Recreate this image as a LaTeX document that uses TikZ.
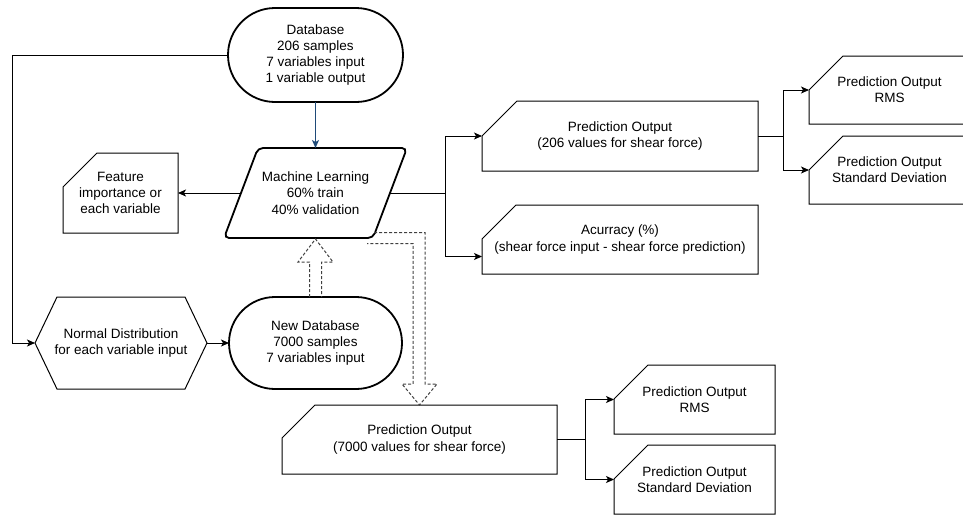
\documentclass[tikz,border=0pt]{standalone}
\usepackage{fontspec}
\setmainfont{Liberation Sans}
\usetikzlibrary{calc,arrows.meta,shapes.misc}
\definecolor{arrowblue}{HTML}{1F4A78}
\definecolor{dashgray}{HTML}{404040}
\newcommand{\cardoutline}[2]{\draw[outline] ($(#1.north west)+(0,-#2)$) -- ($(#1.north west)+(#2,0)$) -- (#1.north east) -- (#1.south east) -- (#1.south west) -- cycle;}
\begin{document}
\begin{tikzpicture}[x=1pt,y=1pt,
  txt/.style={font=\fontsize{13.5}{16.2}\selectfont, align=center, inner sep=0pt, outer sep=0pt},
  conn/.style={line width=1pt, draw=black},
  arr/.style={conn, -{Stealth[length=8pt,width=7pt,inset=2pt]}},
  bold/.style={line width=1.8pt, draw=black},
  outline/.style={line width=1pt, draw=black},
  hollow/.style={draw=dashgray, line width=1pt, dash pattern=on 3pt off 2pt},
]
\useasboundingbox (0,0) rectangle (963,-515);
\clip (0,0) rectangle (963,-515);

% Nodes
\node[txt, rounded rectangle, bold, minimum width=175pt, minimum height=94pt] (db) at (315.5,-55) {Database\\206 samples\\7 variables input\\1 variable output};

\node[txt, minimum width=183pt, minimum height=90pt] (ml) at (315.5,-193) {Machine Learning\\60\% train\\40\% validation};
\draw[bold, rounded corners=5pt] (ml.south west) -- ($(ml.north west)+(34,0)$) -- (ml.north east) -- ($(ml.south east)+(-34,0)$) -- cycle;

\node[txt, minimum width=115pt, minimum height=80pt] (feat) at (120.5,-193) {Feature\\importance or\\each variable};
\cardoutline{feat}{34}

\node[txt, minimum width=276pt, minimum height=70pt] (p206) at (620,-136) {Prediction Output\\(206 values for shear force)};
\cardoutline{p206}{35}

\node[txt, minimum width=276pt, minimum height=69pt] (acc) at (620,-239.5) {Acurracy (\%)\\(shear force input - shear force prediction)};
\cardoutline{acc}{34}

\node[txt, minimum width=161pt, minimum height=68pt] (rms1) at (889.5,-90) {Prediction Output\\RMS};
\cardoutline{rms1}{34}

\node[txt, minimum width=161pt, minimum height=68pt] (sd1) at (889.5,-170) {Prediction Output\\Standard Deviation};
\cardoutline{sd1}{34}

\node[txt, minimum width=172pt, minimum height=92pt] (hex) at (121,-343) {Normal Distribution\\for each variable input};
\draw[outline] (hex.west) -- ($(hex.north west)+(22,0)$) -- ($(hex.north east)+(-22,0)$) -- (hex.east) -- ($(hex.south east)+(-22,0)$) -- ($(hex.south west)+(22,0)$) -- cycle;

\node[txt, rounded rectangle, bold, minimum width=173pt, minimum height=92pt] (ndb) at (315.5,-343) {New Database\\7000 samples\\7 variables input};

\node[txt, minimum width=275pt, minimum height=69pt] (p7k) at (419.5,-439.5) {Prediction Output\\(7000 values for shear force)};
\cardoutline{p7k}{33}

\node[txt, minimum width=161pt, minimum height=69pt] (rms2) at (694.5,-399.5) {Prediction Output\\RMS};
\cardoutline{rms2}{34}

\node[txt, minimum width=161pt, minimum height=69pt] (sd2) at (694.5,-479.5) {Prediction Output\\Standard Deviation};
\cardoutline{sd2}{34}

% Connectors
\draw[arr, draw=arrowblue] (db.south) -- (ml.north);

\coordinate (lft) at (12,-55);
\draw[arr] (db.west) -- (lft) |- (hex.west);

\draw[arr] ($(ml.west)+(17,0)$) -- (feat.east);

\coordinate (split1) at (445,-193);
\draw[conn] ($(ml.east)+(-17,0)$) -- (split1);
\draw[arr] (split1) |- (p206.west);
\draw[arr] (split1) |- ($(acc.west)+(0,-17)$);

\coordinate (split2) at (783,-136);
\draw[conn] (p206.east) -- (split2);
\draw[arr] (split2) |- (rms1.west);
\draw[arr] (split2) |- (sd1.west);

\draw[arr] (hex.east) -- (ndb.west);

\coordinate (split3) at (585,-439.5);
\draw[conn] (p7k.east) -- (split3);
\draw[arr] (split3) |- (rms2.west);
\draw[arr] (split3) |- (sd2.west);

% Hollow dashed arrows
\draw[hollow] ($(ndb.north)+(-6,0)$) -- ($(ndb.north)+(-6,35)$) -- ($(ndb.north)+(-17.5,35)$) -- ($(ml.south)+(0,-1)$) -- ($(ndb.north)+(17.5,35)$) -- ($(ndb.north)+(6,35)$) -- ($(ndb.north)+(6,0)$);

\coordinate (mlbr) at (374,-232.7);
\coordinate (mlbr2) at (367,-243.5);
\draw[hollow] (mlbr) -- (425,-232.7) -- ($(p7k.north)+(5.5,21)$) -- ($(p7k.north)+(17.5,21)$) -- (p7k.north) -- ($(p7k.north)+(-17.5,21)$) -- ($(p7k.north)+(-6.5,21)$) -- (413,-243.5) -- (mlbr2);
\end{tikzpicture}
\end{document}
